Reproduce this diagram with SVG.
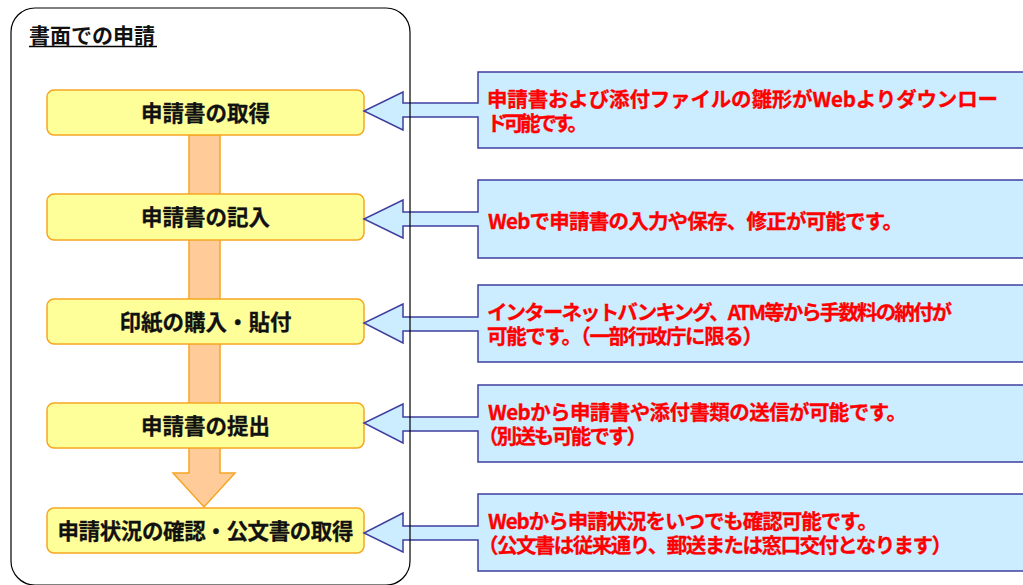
<svg xmlns="http://www.w3.org/2000/svg" width="1023" height="585" viewBox="0 0 1023 585">
<style>
.step rect{fill:#FFFF99;stroke:#F5A623;stroke-width:1.5}
.step text{font-family:"Noto Sans CJK JP","Noto Sans CJK SC",sans-serif;font-weight:bold;font-size:21.5px;fill:#111;text-anchor:middle;stroke:#111;stroke-width:0.3}
.note path{fill:#CCECFF;stroke:#3F3F9F;stroke-width:1.5;stroke-linejoin:miter}
.note text{font-family:"Noto Sans CJK JP","Noto Sans CJK SC",sans-serif;font-weight:bold;font-size:20.5px;fill:#FF0000;stroke:#FF0000;stroke-width:0.3}
.title{font-family:"Noto Sans CJK JP","Noto Sans CJK SC",sans-serif;font-weight:bold;font-size:21px;fill:#111}
</style>
<rect x="0" y="0" width="1023" height="585" fill="#FFFFFF"/>
<g id="connectors">
<path d="M189,135 V473 H173 L204,507 L235,473 H220 V135 Z" fill="#FFCC99" stroke="#F5A623" stroke-width="1.5"/>
</g>
<g id="step1" class="step"><rect x="47" y="90" width="317" height="45" rx="7"/><text x="205.5" y="120.5">申請書の取得</text></g>
<g id="step2" class="step"><rect x="47" y="194" width="317" height="46" rx="7"/><text x="205.5" y="225">申請書の記入</text></g>
<g id="step3" class="step"><rect x="47" y="299" width="317" height="45" rx="7"/><text x="205.5" y="329.5">印紙の購入・貼付</text></g>
<g id="step4" class="step"><rect x="47" y="403" width="317" height="45" rx="7"/><text x="205.5" y="433.5">申請書の提出</text></g>
<g id="step5" class="step"><rect x="47" y="508" width="317" height="45" rx="7"/><text x="205.5" y="538.5" textLength="296">申請状況の確認・公文書の取得</text></g>
<g id="note1" class="note">
<path d="M478,72 H1030 V148 H478 V117 H403 V130 L364,111 L403,92 V103 H478 Z"/>
<text x="487" y="107" textLength="511">申請書および添付ファイルの雛形がWebよりダウンロー</text>
<text x="487" y="131" textLength="101">ド可能です。</text>
</g>
<g id="note2" class="note">
<path d="M478,180 H1030 V258 H478 V226 H403 V238 L364,219 L403,200 V212 H478 Z"/>
<text x="488" y="229" textLength="415">Webで申請書の入力や保存、修正が可能です。</text>
</g>
<g id="note3" class="note">
<path d="M478,285 H1030 V362 H478 V331 H403 V343 L364,323 L403,304 V317 H478 Z"/>
<text x="487" y="320" textLength="465">インターネットバンキング、ATM等から手数料の納付が</text>
<text x="487" y="344" textLength="276">可能です。（一部行政庁に限る）</text>
</g>
<g id="note4" class="note">
<path d="M478,385 H1030 V462 H478 V431 H403 V443 L364,423 L403,404 V417 H478 Z"/>
<text x="488" y="420" textLength="419">Webから申請書や添付書類の送信が可能です。</text>
<text x="478" y="444" textLength="169">（別送も可能です）</text>
</g>
<g id="note5" class="note">
<path d="M478,494 H1030 V571 H478 V540 H403 V552 L364,533 L403,513 V526 H478 Z"/>
<text x="488" y="529" textLength="390">Webから申請状況をいつでも確認可能です。</text>
<text x="478" y="553" textLength="474">（公文書は従来通り、郵送または窓口交付となります）</text>
</g>
<g id="frame">
<rect x="11" y="8" width="399" height="577" rx="24" fill="none" stroke="#000" stroke-width="1.2"/>
<text class="title" x="29" y="43">書面での申請</text>
<line x1="29" y1="46.5" x2="157" y2="46.5" stroke="#000" stroke-width="1.5"/>
</g>
</svg>
